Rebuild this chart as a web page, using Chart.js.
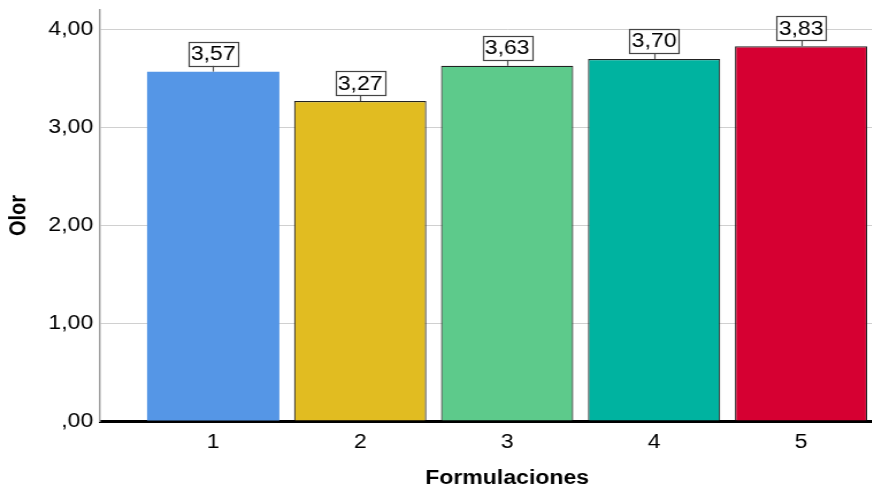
<!DOCTYPE html>
<html><head><meta charset="utf-8">
<script src="https://cdn.jsdelivr.net/npm/chart.js@4.4.0/dist/chart.umd.min.js"></script>
<style>
html,body{margin:0;padding:0;background:#fff;overflow:hidden;width:872px;height:490px;}
#wrap{position:absolute;left:0;top:0;width:800px;height:490px;transform:scaleX(1.15);transform-origin:0 0;}
</style></head><body>
<div id="wrap"><canvas id="c" width="800" height="490"></canvas></div>
<script>
const categories = ['1', '2', '3', '4', '5'];
const olor = [3.57, 3.27, 3.63, 3.70, 3.83];
const yTicks = [0, 1, 2, 3, 4];
const barColors = ['#5596E6', '#E1BC21', '#5DCA8B', '#00B3A0', '#D60032'];
const barBorders = ['#5596E6', '#222222', '#222222', '#222222', '#222222'];
const barBorderWidths = [0, 1.2, 1.2, 1.2, 1.2];

const fmt = v => v === 0 ? ',00' : v.toFixed(2).replace('.', ',');
const FONT = '"Liberation Sans", Arial, sans-serif';

const labelPlugin = {
  id: 'valueBoxes',
  afterDatasetsDraw(chart) {
    const ctx = chart.ctx;
    const meta = chart.getDatasetMeta(0);
    ctx.save();
    ctx.font = '20px ' + FONT;
    meta.data.forEach((bar, i) => {
      const txt = fmt(olor[i]);
      const w = ctx.measureText(txt).width + 4;
      const h = 24;
      const gap = 6;
      const bx = bar.x - w / 2;
      const by = bar.y - gap - h;
      ctx.strokeStyle = '#555';
      ctx.lineWidth = 1.2;
      ctx.beginPath();
      ctx.moveTo(Math.round(bar.x) + 0.5, bar.y - gap);
      ctx.lineTo(Math.round(bar.x) + 0.5, bar.y);
      ctx.stroke();
      ctx.fillStyle = '#fff';
      ctx.fillRect(bx, by, w, h);
      ctx.strokeStyle = '#444';
      ctx.strokeRect(Math.round(bx) + 0.5, Math.round(by) + 0.5, Math.round(w), h);
      ctx.fillStyle = '#000';
      ctx.textAlign = 'center';
      ctx.textBaseline = 'middle';
      ctx.fillText(txt, bar.x, by + h / 2 + 1);
    });
    ctx.restore();
  }
};

new Chart(document.getElementById('c'), {
  type: 'bar',
  data: {
    datasets: [{
      data: categories.map((c, i) => ({ x: i + 1, y: olor[i] })),
      backgroundColor: barColors,
      borderColor: barBorders,
      borderWidth: barBorderWidths,
      categoryPercentage: 1,
      barPercentage: 0.9
    }]
  },
  options: {
    responsive: false,
    animation: false,
    devicePixelRatio: 1,
    layout: { padding: { top: 10, right: 5, left: 0, bottom: 0 } },
    plugins: { legend: { display: false }, tooltip: { enabled: false } },
    scales: {
      x: {
        type: 'linear',
        offset: false,
        min: 0.23,
        max: 5.77,
        z: 1,
        grid: { display: false, drawTicks: false },
        border: { display: true, color: '#000', width: 3 },
        afterBuildTicks: s => { s.ticks = categories.map((c, i) => ({ value: i + 1 })); },
        afterFit: s => { s.height = 69; s.paddingLeft = 0; s.paddingRight = 0; },
        ticks: {
          padding: 9,
          color: '#000',
          font: { family: FONT, size: 20 },
          callback: v => categories[v - 1]
        },
        title: {
          display: true,
          text: 'Formulaciones',
          color: '#000',
          font: { family: FONT, size: 20, weight: 'bold' },
          padding: { top: 0, bottom: 0 }
        }
      },
      y: {
        min: 0,
        max: 4.2,
        afterBuildTicks: s => { s.ticks = yTicks.map(v => ({ value: v })); },
        afterFit: s => { s.width = 87; s.paddingTop = 0; s.paddingBottom = 0; },
        grid: { color: '#d0d0d0', lineWidth: 1, drawTicks: false },
        border: { display: true, color: '#a0a0a0', width: 1.5 },
        ticks: {
          padding: 6,
          color: '#000',
          font: { family: FONT, size: 20 },
          callback: v => fmt(v)
        },
        title: {
          display: true,
          text: 'Olor',
          color: '#000',
          font: { family: FONT, size: 20, weight: 'bold' },
          padding: { top: 4, bottom: 0 }
        }
      }
    }
  },
  plugins: [labelPlugin]
});
</script>
</body></html>
